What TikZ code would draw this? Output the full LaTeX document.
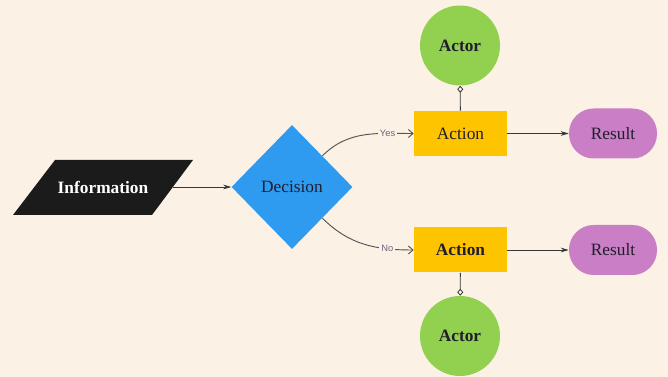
\documentclass[tikz,border=0pt]{standalone}
\usepackage{fontspec}
\setmainfont{Liberation Serif}
\newfontfamily\lblfont{Liberation Sans}
\usetikzlibrary{shapes.geometric}
\usetikzlibrary{arrows.meta}

\definecolor{paper}{RGB}{251,241,228}
\definecolor{infoblack}{RGB}{27,27,27}
\definecolor{decblue}{RGB}{47,155,240}
\definecolor{actyellow}{RGB}{255,196,0}
\definecolor{actorgreen}{RGB}{146,209,79}
\definecolor{respurple}{RGB}{201,126,198}
\definecolor{inkdark}{RGB}{32,30,45}
\definecolor{wire}{RGB}{55,55,55}
\definecolor{bendwire}{RGB}{85,85,85}
\definecolor{lblgray}{RGB}{110,100,130}

\begin{document}
\begin{tikzpicture}[x=0.75pt,y=-0.75pt,
  every node/.style={font=\fontsize{13}{15}\selectfont,text=inkdark},
  decbox/.style={diamond,fill=decblue,minimum width=90.75pt,minimum height=93pt,inner sep=0pt},
  actbox/.style={rectangle,fill=actyellow,minimum width=69.75pt,minimum height=33.75pt,inner sep=0pt},
  actorbox/.style={circle,fill=actorgreen,minimum size=60pt,inner sep=0pt},
  resbox/.style={rectangle,rounded corners=18.5pt,fill=respurple,minimum width=66pt,minimum height=37.5pt,inner sep=0pt},
  flow/.style={wire,line width=0.6pt,-{Stealth[length=6pt,width=3.5pt]}},
  branch/.style={bendwire,line width=0.7pt,-{Straight Barb[length=3.5pt,width=6pt]}},
  owner/.style={wire,line width=0.6pt,-{Diamond[open,length=5.25pt,width=4.5pt]}},
  lbl/.style={font=\lblfont\fontsize{7}{8}\selectfont,text=lblgray,fill=paper,inner sep=1.5pt}]
 \fill[paper](0,0) rectangle (668,377);
 % input
 \fill[infoblack](13,215)--(55,160)--(193,160)--(152,215)--cycle;
 \node (info) at (103,187) {\textcolor{white}{\bfseries Information}};
 \coordinate (info-e) at (172.5,187);
 % decision and branches
 \node[decbox] (dec) at (292,187) {Decision};
 \node[actbox] (act1) at (460.5,133.5) {Action};
 \node[actbox] (act2) at (460.5,250) {\bfseries Action};
 \node[actorbox] (actor1) at (460,45.5) {\bfseries Actor};
 \node[actorbox] (actor2) at (460,336) {\bfseries Actor};
 \node[resbox] (res1) at (613,133.5) {Result};
 \node[resbox] (res2) at (613,250) {Result};
 \draw[flow](info-e)--(dec);
 \draw[branch](dec.north east) to[out=45,in=180] node[pos=0.75,lbl]{Yes} (act1.west);
 \draw[branch](dec.south east) to[out=-45,in=180] node[pos=0.75,lbl]{No} (act2.west);
 \draw[flow](act1)--(res1);
 \draw[flow](act2)--(res2);
 \draw[owner](act1)--(actor1);
 \draw[owner](act2)--(actor2);
\end{tikzpicture}
\end{document}
